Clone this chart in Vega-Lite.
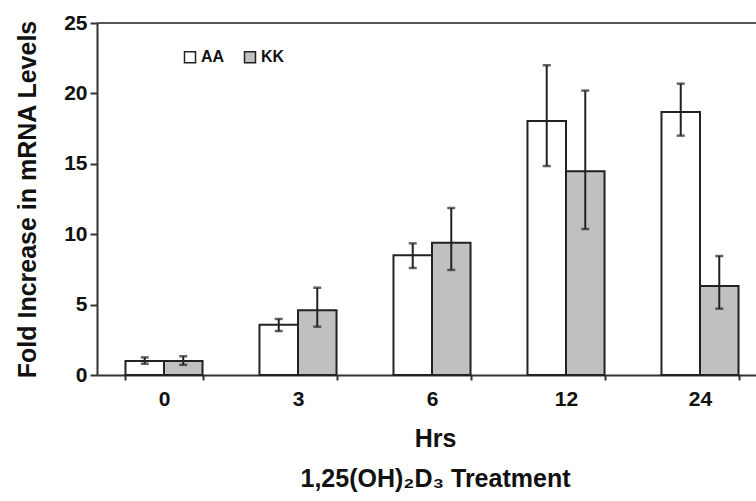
{
  "$schema": "https://vega.github.io/schema/vega-lite/v6.json",
  "width": 659,
  "height": 352,
  "autosize": "none",
  "padding": {"left": 97, "top": 23, "right": 0, "bottom": 126},
  "background": "white",
  "config": {
    "font": "Liberation Sans",
    "view": {"stroke": null},
    "axis": {"domainColor": "#333", "domainWidth": 2, "tickColor": "#333", "tickWidth": 2, "grid": false, "labelColor": "#111", "titleColor": "#111"}
  },
  "data": {"values": [
    {"hrs": "0", "geno": "AA", "v": 1.0, "lo": 0.8, "hi": 1.25},
    {"hrs": "0", "geno": "KK", "v": 1.0, "lo": 0.72, "hi": 1.33},
    {"hrs": "3", "geno": "AA", "v": 3.57, "lo": 3.12, "hi": 3.98},
    {"hrs": "3", "geno": "KK", "v": 4.6, "lo": 3.43, "hi": 6.2},
    {"hrs": "6", "geno": "AA", "v": 8.5, "lo": 7.6, "hi": 9.35},
    {"hrs": "6", "geno": "KK", "v": 9.4, "lo": 7.46, "hi": 11.86},
    {"hrs": "12", "geno": "AA", "v": 18.04, "lo": 14.84, "hi": 22.0},
    {"hrs": "12", "geno": "KK", "v": 14.47, "lo": 10.37, "hi": 20.2},
    {"hrs": "24", "geno": "AA", "v": 18.68, "lo": 17.0, "hi": 20.69},
    {"hrs": "24", "geno": "KK", "v": 6.32, "lo": 4.71, "hi": 8.45}
  ]},
  "encoding": {
    "x": {"field": "hrs", "type": "nominal", "sort": ["0", "3", "6", "12", "24"],
      "scale": {"paddingInner": 0.425, "paddingOuter": 0.2125, "range": [0, 670]},
      "axis": {"labelAngle": 0, "tickBand": "extent", "tickSize": 5, "labelFontSize": 21, "labelFontWeight": "bold", "labelPadding": 8,
        "title": ["Hrs", "1,25(OH)₂D₃ Treatment"], "titleFontSize": 25, "titleFontWeight": "bold", "titleLineHeight": 40, "titlePadding": 17, "titleX": 338}},
    "xOffset": {"field": "geno", "type": "nominal", "sort": ["AA", "KK"]}
  },
  "layer": [
    {
      "mark": {"type": "bar", "stroke": "#222", "strokeWidth": 2},
      "encoding": {
        "y": {"field": "v", "type": "quantitative", "scale": {"domain": [0, 25], "nice": false, "zero": true},
          "axis": {"values": [0, 5, 10, 15, 20, 25], "tickSize": 7, "labelFontSize": 21, "labelFontWeight": "bold", "labelPadding": 3,
            "title": "Fold Increase in mRNA Levels", "titleFontSize": 25, "titleFontWeight": "bold", "titlePadding": 23}},
        "fill": {"field": "geno", "type": "nominal",
          "scale": {"domain": ["AA", "KK"], "range": ["#ffffff", "#c0c0c0"]},
          "legend": {"title": null, "orient": "none", "direction": "horizontal", "legendX": 85, "legendY": 26,
            "symbolType": "square", "symbolSize": 121, "symbolStrokeColor": "#222", "symbolStrokeWidth": 1.5,
            "labelFontSize": 16, "labelFontWeight": "bold", "labelColor": "#111", "labelOffset": 3, "columnPadding": 16}}
      }
    },
    {
      "mark": {"type": "rule", "color": "#555", "strokeWidth": 2},
      "encoding": {"y": {"datum": 25, "type": "quantitative", "scale": {"domain": [0, 25], "nice": false}}, "x": null, "xOffset": null}
    },
    {
      "mark": {"type": "rule", "color": "#222", "strokeWidth": 2},
      "encoding": {"y": {"field": "lo", "type": "quantitative", "scale": {"domain": [0, 25], "nice": false}}, "y2": {"field": "hi"}}
    },
    {
      "mark": {"type": "tick", "color": "#222", "thickness": 2.5, "size": 8},
      "encoding": {"y": {"field": "lo", "type": "quantitative", "scale": {"domain": [0, 25], "nice": false}}}
    },
    {
      "mark": {"type": "tick", "color": "#222", "thickness": 2.5, "size": 8},
      "encoding": {"y": {"field": "hi", "type": "quantitative", "scale": {"domain": [0, 25], "nice": false}}}
    }
  ]
}
